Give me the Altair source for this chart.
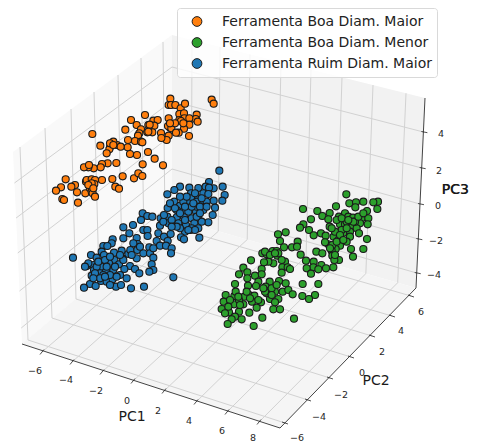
import altair as alt
import pandas as pd

# crop origins used while reading points from the picture (values are 3x crop readings)
orange_origin = (50, 90)
orange_pts = [(361,26),(356,45),(363,45),(376,45),(392,55),(405,41),(485,29),(491,41),(388,72),(402,70),(403,85),(440,74),(437,87),(388,90),(393,93),(356,85),(418,85),(443,95),(418,104),(402,116),(360,113),(354,108),(364,115),(386,128),(378,128),(417,138),(356,137),(333,129),(350,150),(334,144),(285,75),(243,90),(260,105),(295,105),(310,92),(323,90),(313,107),(299,104),(226,119),(127,132),(273,118),(268,130),(264,137),(292,127),(307,127),(255,153),(273,155),(277,157),(234,150),(201,165),(190,155),(151,167),(185,165),(180,172),(178,178),(170,190),(233,172),(212,170),(240,192),(261,195),(294,186),(314,206),(278,223),(339,226),(199,219),(173,220),(156,222),(152,232),(131,235),(115,232),(102,232),(117,225),(47,268),(108,275),(110,270),(125,268),(135,270),(133,282),(156,270),(187,267),(218,259),(252,265),(265,250),(277,258),(75,285),(64,290),(33,292),(18,302),(81,307),(106,310),(120,295),(125,305),(128,310),(135,320),(196,290),(207,296),(37,327),(42,330),(84,338),(125,280),(115,285),(130,295),(375,100),(400,100),(360,100),(295,125),(180,160),(190,165)]

blue_origin = (60, 160)
blue_pts = [(478,32),(447,66),(360,80),(343,90),(322,103),(388,83),(415,84),(437,80),(461,85),(488,80),(447,83),(393,100),(394,115),(414,115),(430,100),(445,102),(494,105),(461,122),(487,122),(343,125),(323,144),(360,137),(385,130),(410,125),(430,128),(465,143),(350,150),(370,155),(385,155),(408,155),(430,150),(458,165),(445,187),(248,160),(262,168),(277,170),(243,180),(302,175),(322,170),(300,197),(325,190),(350,172),(372,172),(395,175),(415,175),(355,190),(378,195),(403,190),(425,185),(190,202),(219,195),(208,220),(190,235),(250,210),(262,210),(263,228),(295,220),(312,230),(332,222),(375,215),(392,210),(415,205),(418,233),(363,232),(372,238),(158,238),(155,250),(230,234),(233,252),(290,243),(323,243),(300,257),(318,257),(335,265),(333,280),(130,258),(142,258),(125,275),(162,278),(185,272),(205,282),(211,270),(232,270),(250,280),(268,262),(270,280),(39,293),(93,285),(110,293),(132,285),(230,295),(188,296),(280,293),(163,300),(275,313),(80,318),(100,315),(126,320),(147,310),(177,313),(210,318),(225,327),(238,340),(280,330),(268,335),(102,330),(95,347),(120,340),(138,335),(160,330),(193,327),(200,355),(180,345),(123,363),(140,365),(158,358),(90,372),(107,378),(72,383),(168,380),(183,375),(213,385),(252,380),(340,352),(410,140),(395,140),(370,125),(440,125),(335,180),(110,320),(150,345),(130,345),(215,285),(360,205),(85,310),(105,340),(115,305),(135,300),(150,290),(165,320),(140,320),(120,355),(100,355),(75,320),(150,375),(135,350),(170,350),(190,300),(240,260),(220,250),(180,285),(280,265),(330,130),(345,145),(360,160),(375,140),(400,130),(420,140),(440,140),(380,110),(405,100),(425,115),(360,110),(395,205),(405,210),(350,200),(335,200),(310,185),(312,165),(385,210),(375,180),(410,170),(420,160)]

green_origin = (215, 185)
green_pts = [(394,28),(264,72),(363,64),(403,55),(423,52),(421,67),(445,50),(489,50),(475,52),(487,72),(456,78),(307,78),(344,84),(322,93),(390,85),(340,103),(288,103),(265,118),(255,128),(282,135),(296,151),(344,125),(372,95),(400,95),(414,98),(440,100),(460,100),(458,118),(435,115),(375,118),(390,118),(410,125),(425,130),(385,143),(405,140),(432,145),(356,155),(372,163),(405,155),(318,145),(332,152),(189,148),(212,142),(195,168),(207,187),(231,187),(248,170),(246,185),(340,178),(330,172),(375,182),(362,192),(408,192),(445,192),(456,162),(304,200),(322,205),(350,197),(352,212),(372,225),(358,225),(414,215),(257,209),(142,205),(155,208),(173,198),(185,198),(187,212),(210,230),(175,235),(160,230),(147,232),(108,226),(273,227),(296,230),(295,247),(319,240),(333,250),(355,247),(275,250),(288,266),(310,253),(85,248),(140,252),(140,268),(202,247),(218,247),(225,252),(200,263),(72,268),(97,262),(97,280),(120,272),(60,297),(130,290),(123,303),(99,302),(164,290),(192,288),(212,295),(263,297),(310,297),(152,305),(160,318),(180,320),(203,320),(220,315),(233,328),(32,330),(58,333),(100,328),(118,332),(62,320),(155,325),(165,342),(190,342),(180,352),(262,333),(300,330),(282,342),(26,350),(57,358),(85,358),(111,350),(138,352),(20,372),(42,382),(72,380),(60,395),(103,383),(125,368),(175,373),(195,373),(142,398),(237,401),(80,403),(50,403),(38,417),(116,423),(88,335),(72,345),(395,110),(420,110),(365,105),(380,135),(352,180),(360,140),(380,100),(395,130),(375,150),(415,110),(430,95),(445,85),(365,170),(345,190),(360,210),(395,170),(385,165),(350,130),(400,105),(45,345),(70,335),(105,340),(95,320),(40,365),(75,360),(30,385),(130,345),(150,320),(170,310),(145,310),(170,330),(185,300),(150,200),(165,210),(190,205),(180,205),(200,225)]

series_names = ["Ferramenta Boa Diam. Maior", "Ferramenta Boa Diam. Menor", "Ferramenta Ruim Diam. Maior"]
series_colors = ["#ff7f0e", "#2ca02c", "#1f77b4"]

# 3D box as it appears on the page
corner_front_left = (22, 344)
corner_front = (280, 428)
corner_right = (416, 288)
corner_back = (172, 218)
corner_top_left = (13, 152)
corner_top_back = (172, 35)
corner_top_right = (425, 98)

pc1_labels = ["−6", "−4", "−2", "0", "2", "4", "6", "8"]
pc1_ticks = [(42,352),(72,362),(102,372),(133,381),(164,391),(196,402),(227,412),(259,422)]
pc1_label_pos = [(35,371),(66,380),(96,391),(127,401),(158,411),(189,421),(222,431),(253,438)]
pc1_top_x = [192,220,250,281,311,342,373,406]

pc2_labels = ["−6", "−4", "−2", "0", "2", "4", "6"]
pc2_ticks = [(285,423),(308,400),(330,378),(351,357),(372,336),(392,316),(411,296)]
pc2_label_pos = [(297,438),(319,417),(341,395),(362,373),(382,352),(401,331),(421,312)]
pc2_left = [(28,340),(52,318),(76,299),(99,279),(122,260),(144,243),(165,225)]
pc2_top = [(20,147),(45,128),(71,109),(94,92),(118,75),(141,58),(163,42)]

pc3_labels = ["4", "2", "0", "−2", "−4"]
pc3_right_y = [132,168,204,239,273]
pc3_back_y = [67,101,135,169,203]
pc3_left_y = [183,218,253,291,328]
pc3_label_pos = [(441,134),(439,171),(438,206),(436,241),(434,275)]

axis_titles = [("PC1",132,417),("PC2",376,381),("PC3",455,190)]


def lerp(a, b, t):
    return a + (b - a) * t


def polygon_rows(verts):
    xs = sorted({v[0] for v in verts})
    n = len(verts)
    rows = []
    for x in xs:
        ys = []
        for i in range(n):
            (x0, y0), (x1, y1) = verts[i], verts[(i + 1) % n]
            if x0 == x1:
                if x == x0:
                    ys += [y0, y1]
            elif min(x0, x1) <= x <= max(x0, x1):
                ys.append(lerp(y0, y1, (x - x0) / (x1 - x0)))
        rows.append({"x": x, "y": min(ys), "y2": max(ys)})
    return pd.DataFrame(rows)


def left_edge_x(y):
    return lerp(corner_top_left[0], corner_front_left[0], (y - corner_top_left[1]) / (corner_front_left[1] - corner_top_left[1]))


def right_edge_x(y):
    return lerp(corner_top_right[0], corner_right[0], (y - corner_top_right[1]) / (corner_right[1] - corner_top_right[1]))


grid = []
for (tx, ty), top_x in zip(pc1_ticks, pc1_top_x):
    f = (top_x - corner_top_back[0]) / (corner_top_right[0] - corner_top_back[0])
    bx = lerp(corner_back[0], corner_right[0], f)
    by = lerp(corner_back[1], corner_right[1], f)
    ty2 = lerp(corner_top_back[1], corner_top_right[1], f)
    grid += [(tx, ty, bx, by), (bx, by, top_x, ty2)]
for t, l, p in zip(pc2_ticks, pc2_left, pc2_top):
    grid += [(t[0], t[1], l[0], l[1]), (l[0], l[1], p[0], p[1])]
for ly, by, ry in zip(pc3_left_y, pc3_back_y, pc3_right_y):
    grid += [(left_edge_x(ly), ly, corner_back[0], by), (corner_back[0], by, right_edge_x(ry), ry)]
grid_df = pd.DataFrame(grid, columns=["x", "y", "x2", "y2"])

edges_df = pd.DataFrame(
    [corner_front_left + corner_front, corner_front + corner_right, corner_right + corner_top_right],
    columns=["x", "y", "x2", "y2"],
)

ticks = []
for x, y in pc1_ticks:
    ticks.append((x - 2, y + 2.5, x + 2, y - 2.5))
for x, y in pc2_ticks:
    ticks.append((x - 3, y - 1, x + 3, y + 1))
for ry in pc3_right_y:
    x = right_edge_x(ry)
    ticks.append((x - 2, ry - 0.5, x + 4, ry + 0.7))
ticks_df = pd.DataFrame(ticks, columns=["x", "y", "x2", "y2"])

labels_df = pd.DataFrame(
    [dict(t=t, x=p[0], y=p[1]) for t, p in zip(pc1_labels, pc1_label_pos)]
    + [dict(t=t, x=p[0], y=p[1]) for t, p in zip(pc2_labels, pc2_label_pos)]
    + [dict(t=t, x=p[0], y=p[1]) for t, p in zip(pc3_labels, pc3_label_pos)]
)
titles_df = pd.DataFrame(axis_titles, columns=["t", "x", "y"])
pc3_shadow_df = titles_df[titles_df.t == "PC3"].assign(x=lambda d: d.x + 0.5)

rows = []
for name, origin, pts in zip(series_names, [orange_origin, green_origin, blue_origin], [orange_pts, green_pts, blue_pts]):
    for zx, zy in pts:
        rows.append(dict(series=name, x=origin[0] + zx / 3, y=origin[1] + zy / 3))
points_df = pd.DataFrame(rows)

X = alt.X("x:Q", axis=None, scale=alt.Scale(domain=[8, 469], nice=False, zero=False))
Y = alt.Y("y:Q", axis=None, scale=alt.Scale(domain=[443, 8], nice=False, zero=False))


def pane(verts, color):
    return alt.Chart(polygon_rows(verts)).mark_area(color=color, opacity=1, interpolate="linear").encode(
        x=X, y=Y, y2="y2:Q"
    )


def segs(df, color, width):
    return alt.Chart(df).mark_rule(color=color, strokeWidth=width).encode(x=X, y=Y, x2="x2:Q", y2="y2:Q")


panes = [
    pane([corner_top_left, corner_top_back, corner_back, corner_front_left], "#f9f9f9"),
    pane([corner_top_back, corner_top_right, corner_right, corner_back], "#f2f2f2"),
    pane([corner_front_left, corner_back, corner_right, corner_front], "#f5f5f5"),
]

scatter = alt.Chart(points_df).mark_point(
    filled=True, size=50, stroke="#1a1a1a", strokeWidth=1.1, opacity=1, shape="circle"
).encode(
    x=X,
    y=Y,
    fill=alt.Fill(
        "series:N",
        scale=alt.Scale(domain=series_names, range=series_colors),
        sort=series_names,
        legend=alt.Legend(
            title=None,
            orient="none",
            legendX=169,
            legendY=0,
            fillColor="#ffffffcc",
            strokeColor="#d9d9d9",
            cornerRadius=3,
            padding=5,
            rowPadding=4,
            labelFontSize=14,
            labelFont="DejaVu Sans",
            labelColor="#222222",
            labelLimit=300,
            symbolType="circle",
            symbolSize=95,
            symbolStrokeColor="#1a1a1a",
            symbolStrokeWidth=1,
            symbolOffset=8,
            labelOffset=18,
            clipHeight=17,
        ),
    ),
    order=alt.Order("series:N"),
)

tick_text = alt.Chart(labels_df).mark_text(font="DejaVu Sans", fontSize=9.5, color="#262626", align="center", baseline="middle").encode(x=X, y=Y, text="t:N")
title_text = alt.Chart(titles_df).mark_text(font="DejaVu Sans", fontSize=14, color="#1a1a1a", align="center", baseline="middle").encode(x=X, y=Y, text="t:N")
title_shadow = alt.Chart(pc3_shadow_df).mark_text(font="DejaVu Sans", fontSize=14, color="#1a1a1a", align="center", baseline="middle").encode(x=X, y=Y, text="t:N")

chart = alt.layer(
    *panes,
    segs(grid_df, "#d2d2d2", 1),
    segs(edges_df, "#444444", 1),
    segs(ticks_df, "#222222", 0.8),
    scatter,
    tick_text,
    title_text,
    title_shadow,
).properties(
    width=461, height=435, padding=0, autosize=alt.AutoSizeParams(type="none")
).configure_view(stroke=None)

chart.save("out.html", embed_options={"renderer": "svg", "actions": False})
